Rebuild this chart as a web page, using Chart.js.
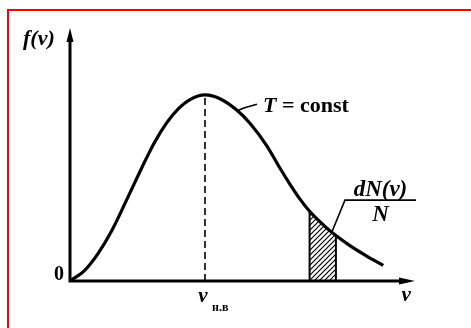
<!DOCTYPE html>
<html>
<head>
<meta charset="utf-8">
<script src="https://cdn.jsdelivr.net/npm/chart.js"></script>
<style>
  html, body { margin: 0; padding: 0; background: #fff; }
  canvas { display: block; }
</style>
</head>
<body>
<canvas id="maxwell" width="471" height="328"></canvas>
<script>
// speed v (peak = 1) and f(v) (peak = 1)
const vValues = [0, 0.111, 0.210, 0.309, 0.432, 0.556, 0.630, 0.716, 0.802, 0.889, 1,
                 1.111, 1.235, 1.333, 1.457, 1.556, 1.630, 1.704, 1.778, 1.876, 1.963, 2.074, 2.198, 2.321];
const fValues = [0, 0.059, 0.150, 0.270, 0.455, 0.645, 0.750, 0.850, 0.925, 0.975, 1,
                 0.980, 0.919, 0.848, 0.728, 0.606, 0.520, 0.440, 0.372, 0.302, 0.248, 0.190, 0.134, 0.084];

// shaded strip dN(v)/N
const stripV = [1.775, 1.775, 1.876, 1.970, 1.970];
const stripF = [0, 0.374, 0.302, 0.244, 0];

// most probable speed (dashed line)
const peakV = [1, 1];
const peakF = [0, 1];

const toPoints = (xs, ys) => xs.map((x, i) => ({ x: x, y: ys[i] }));

// hatch pattern for the strip
function makeHatch() {
    var c = document.createElement('canvas');
    c.width = 5; c.height = 5;
    var g = c.getContext('2d');
    g.strokeStyle = '#000';
    g.lineWidth = 1.2;
    g.beginPath();
    g.moveTo(-1, 6); g.lineTo(6, -1);
    g.moveTo(-1, 1); g.lineTo(1, -1);
    g.moveTo(4, 6); g.lineTo(6, 4);
    g.stroke();
    return g.createPattern(c, 'repeat');
}

// axes, arrows, labels and frame
const decor = {
    id: 'decor',
    beforeDraw(chart) {
        const ctx = chart.ctx;
        ctx.save();
        ctx.fillStyle = '#fff';
        ctx.fillRect(0, 0, chart.width, chart.height);
        ctx.fillStyle = '#ff0000';
        ctx.fillRect(7, 9, chart.width - 7, 2);
        ctx.fillRect(7, 9, 2, chart.height - 9);
        ctx.restore();
    },
    afterDatasetsDraw(chart) {
        const ctx = chart.ctx;
        const xs = chart.scales.x, ys = chart.scales.y;
        const px = v => xs.getPixelForValue(v);
        const py = f => ys.getPixelForValue(f);
        const x0 = px(0), y0 = py(0);
        const xEnd = xs.right, yTop = ys.top;

        ctx.save();
        ctx.strokeStyle = '#000';
        ctx.fillStyle = '#000';
        ctx.lineCap = 'butt';

        // axes
        ctx.lineWidth = 3;
        ctx.beginPath();
        ctx.moveTo(x0, y0 + 1.5); ctx.lineTo(x0, yTop + 8);
        ctx.moveTo(x0 - 1.5, y0); ctx.lineTo(xEnd - 8, y0);
        ctx.stroke();

        // arrow heads
        ctx.beginPath();
        ctx.moveTo(x0, yTop); ctx.lineTo(x0 - 3.5, yTop + 14); ctx.lineTo(x0 + 3.5, yTop + 14);
        ctx.closePath(); ctx.fill();
        ctx.beginPath();
        ctx.moveTo(xEnd, y0); ctx.lineTo(xEnd - 16, y0 - 3.5); ctx.lineTo(xEnd - 16, y0 + 3.5);
        ctx.closePath(); ctx.fill();

        // leader lines
        ctx.lineWidth = 1.6;
        ctx.beginPath();
        ctx.moveTo(px(1.237), py(0.915)); ctx.quadraticCurveTo(px(1.30), py(0.935), px(1.385), py(0.950));
        ctx.moveTo(px(1.941), py(0.265)); ctx.lineTo(px(2.037), py(0.435)); ctx.lineTo(px(2.563), py(0.435));
        ctx.stroke();

        // texts
        ctx.textBaseline = 'alphabetic';
        ctx.font = 'italic bold 22px "Liberation Serif"';
        ctx.textAlign = 'left';
        ctx.fillText('f(v)', px(-0.348), py(1.268));

        ctx.font = 'bold 20px "Liberation Serif"';
        ctx.textAlign = 'right';
        ctx.fillText('0', px(-0.045), py(0.005));

        ctx.font = 'italic bold 22px "Liberation Serif"';
        ctx.textAlign = 'left';
        ctx.fillText('T', px(1.43), py(0.909));
        const tW = ctx.measureText('T').width;
        ctx.font = 'bold 22px "Liberation Serif"';
        ctx.fillText(' = const', px(1.43) + tW, py(0.909));

        ctx.font = 'italic bold 23px "Liberation Serif"';
        ctx.textAlign = 'center';
        ctx.fillText('dN(v)', px(2.30), py(0.457));
        ctx.fillText('N', px(2.30), py(0.323));

        ctx.font = 'italic bold 21px "Liberation Serif"';
        ctx.fillText('v', px(2.49), py(-0.107));
        ctx.fillText('v', px(0.985), py(-0.113));
        ctx.font = 'bold 12px "Liberation Serif"';
        ctx.textAlign = 'left';
        ctx.fillText('н.в', px(1.052), py(-0.16));

        ctx.restore();
    }
};

new Chart(document.getElementById('maxwell'), {
    type: 'line',
    data: {
        datasets: [
            {
                data: toPoints(vValues, fValues),
                borderColor: '#000',
                borderWidth: 3.2,
                pointRadius: 0,
                cubicInterpolationMode: 'monotone',
                fill: false,
                order: 1
            },
            {
                data: toPoints(stripV, stripF),
                borderColor: '#000',
                borderWidth: 2,
                backgroundColor: makeHatch(),
                pointRadius: 0,
                tension: 0,
                fill: 'origin',
                order: 2
            },
            {
                data: toPoints(peakV, peakF),
                borderColor: '#000',
                borderWidth: 1.6,
                borderDash: [7, 4],
                pointRadius: 0,
                fill: false,
                order: 3
            }
        ]
    },
    options: {
        responsive: false,
        animation: false,
        layout: { padding: { left: 70, right: 56, top: 28, bottom: 47 } },
        scales: {
            x: { type: 'linear', min: 0, max: 2.556, display: false },
            y: { type: 'linear', min: 0, max: 1.36, display: false }
        },
        plugins: {
            legend: { display: false },
            tooltip: { enabled: false }
        }
    },
    plugins: [decor]
});
</script>
</body>
</html>
